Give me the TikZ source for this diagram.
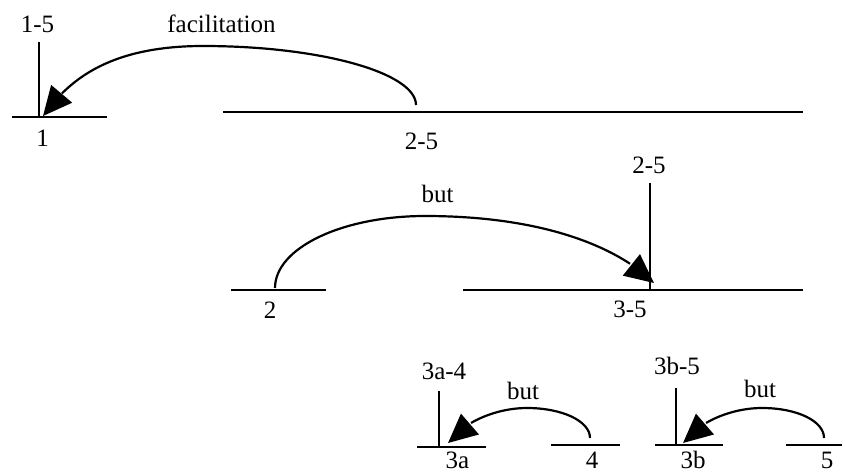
\documentclass[tikz,border=0pt]{standalone}
\usepackage{fontspec}
\setmainfont{Liberation Serif}
\usetikzlibrary{arrows.meta, bending}

\begin{document}
\begin{tikzpicture}[x=1pt, y=-1pt,
    rotulo/.style={anchor=base, inner sep=0pt, font=\fontsize{25}{29}\selectfont},
    segmento/.style={line width=2.8pt},
    haste/.style={line width=2pt},
    arco/.style={line width=2.2pt, -{Triangle[length=29pt, width=27pt, flex]}}
  ]
    \useasboundingbox (0,0) rectangle (845,474);

    % nivel 1
    \draw[segmento] (12,117) -- (107,117);
    \draw[segmento] (223,112) -- (803,112);
    \coordinate (h1a) at (39,42);
    \coordinate (h1b) at (39,117);
    \draw[haste] (h1a) -- (h1b);
    \node[rotulo] (r15) at (37.5,32) {1-5};
    \node[rotulo] (r1) at (42.5,146) {1};
    \node[rotulo] (r25a) at (421.5,149) {2-5};
    \node[rotulo] (rfac) at (221.5,32) {facilitation};
    \coordinate (f0) at (416,105);
    \coordinate (f1) at (203,46);
    \coordinate (f2) at (43,116);
    \draw[arco] (f0) .. controls +(0,-32) and +(118,0) .. (f1) .. controls +(-95,0) and +(25,-35) .. (f2);

    % nivel 2
    \draw[segmento] (231,290) -- (326,290);
    \draw[segmento] (463,290) -- (803,290);
    \coordinate (h2a) at (650,183);
    \coordinate (h2b) at (650,290);
    \draw[haste] (h2a) -- (h2b);
    \node[rotulo] (r25b) at (649,173) {2-5};
    \node[rotulo] (r2) at (270,318) {2};
    \node[rotulo] (r35) at (630,317) {3-5};
    \node[rotulo] (rbut1) at (437.5,202) {but};
    \coordinate (b0) at (275,288);
    \coordinate (b1) at (425,216);
    \coordinate (b2) at (654,283);
    \draw[arco] (b0) .. controls +(0,-40) and +(-83,0) .. (b1) .. controls +(120,0) and +(-35,-35) .. (b2);

    % nivel 3
    \draw[segmento] (417,447) -- (486,447);
    \draw[segmento] (551,445) -- (620,445);
    \draw[segmento] (655,445) -- (723,445);
    \draw[segmento] (786,445) -- (842,445);
    \coordinate (h3a) at (439,391);
    \coordinate (h3b) at (439,447);
    \draw[haste] (h3a) -- (h3b);
    \coordinate (h4a) at (676,388);
    \coordinate (h4b) at (676,445);
    \draw[haste] (h4a) -- (h4b);
    \node[rotulo] (r3a4) at (444,379) {3a-4};
    \node[rotulo] (r3a) at (457.5,468) {3a};
    \node[rotulo] (r4) at (592,468) {4};
    \node[rotulo] (rbut2) at (523,399) {but};
    \node[rotulo] (r3b5) at (677,374) {3b-5};
    \node[rotulo] (r3b) at (693,468) {3b};
    \node[rotulo] (r5) at (827,468) {5};
    \node[rotulo] (rbut3) at (760,397) {but};
    \coordinate (c0) at (590,438);
    \coordinate (c1) at (527,408);
    \coordinate (c2) at (448,443);
    \draw[arco] (c0) .. controls +(0,-17) and +(35,0) .. (c1) .. controls +(-32,0) and +(14,-20) .. (c2);
    \coordinate (d0) at (824,438);
    \coordinate (d1) at (762,408);
    \coordinate (d2) at (683,443);
    \draw[arco] (d0) .. controls +(0,-17) and +(35,0) .. (d1) .. controls +(-32,0) and +(14,-20) .. (d2);
  \end{tikzpicture}
\end{document}
